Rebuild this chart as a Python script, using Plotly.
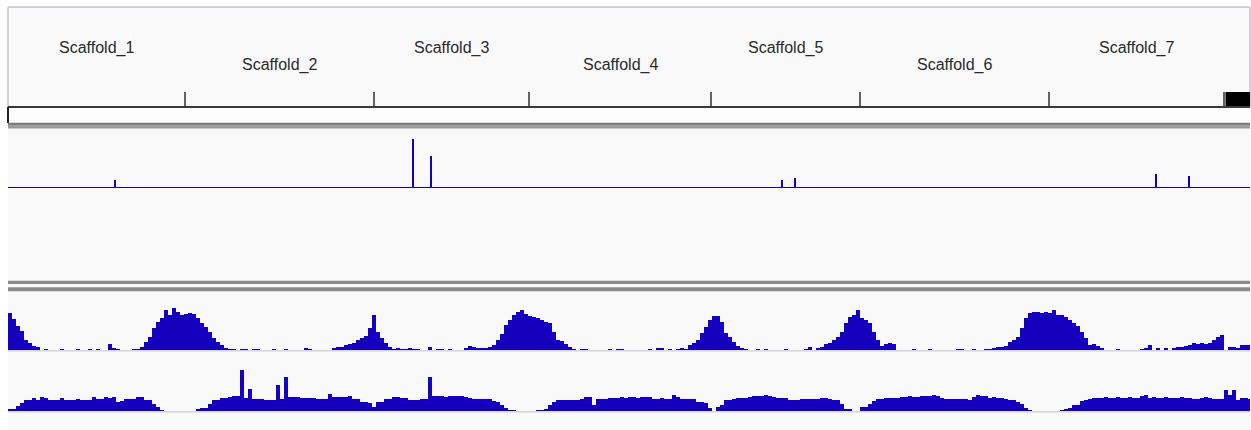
import numpy as np
import plotly.graph_objects as go

# ---- genome layout (Mb) ----
scaffold_names = ["Scaffold_1", "Scaffold_2", "Scaffold_3", "Scaffold_4",
                  "Scaffold_5", "Scaffold_6", "Scaffold_7"]
scaffold_mb = [17.7, 18.9, 15.5, 18.2, 14.9, 18.9, 17.5]
unplaced_mb = 2.6          # small unplaced scaffolds drawn as one block
BIN_MB = 0.4               # window size of the density tracks

# ---- track 1: variant counts ----
snp_pos_mb = [10.7, 40.5, 42.3, 77.4, 78.7, 114.8, 118.1, 122.5]
snp_count = [8, 49, 32, 8, 10, 14, 12, 1]

# ---- track 2: repeat density per window ----
repeat_density = [
    37, 31, 24, 19, 10, 7, 4, 3, 0, 1,
    0, 0, 0, 1, 0, 0, 0, 1, 0, 0,
    1, 0, 1, 0, 0, 6, 2, 1, 0, 0,
    0, 1, 1, 3, 8, 13, 22, 28, 32, 40,
    35, 42, 38, 35, 36, 37, 36, 32, 27, 23,
    18, 12, 8, 5, 2, 1, 1, 0, 1, 1,
    0, 1, 1, 0, 0, 0, 1, 0, 0, 1,
    0, 0, 0, 0, 2, 1, 0, 0, 0, 0,
    0, 2, 3, 3, 5, 6, 7, 10, 12, 14,
    22, 35, 18, 12, 7, 3, 1, 2, 1, 1,
    2, 1, 1, 0, 0, 3, 0, 1, 1, 0,
    1, 0, 0, 0, 2, 4, 3, 2, 2, 2,
    3, 5, 10, 16, 25, 30, 35, 38, 40, 36,
    34, 33, 32, 30, 28, 27, 18, 10, 9, 6,
    3, 1, 0, 1, 1, 0, 0, 0, 0, 0,
    1, 0, 1, 1, 0, 0, 0, 0, 0, 0,
    1, 0, 2, 2, 0, 1, 0, 1, 2, 1,
    5, 7, 10, 17, 23, 30, 34, 34, 28, 17,
    13, 8, 4, 2, 1, 0, 0, 1, 0, 1,
    0, 0, 0, 0, 1, 0, 0, 0, 0, 1,
    3, 0, 2, 3, 6, 7, 10, 13, 18, 27,
    33, 35, 40, 32, 30, 27, 18, 10, 4, 6,
    7, 6, 0, 0, 0, 0, 1, 0, 0, 0,
    1, 0, 0, 0, 0, 0, 0, 1, 1, 0,
    0, 1, 0, 0, 1, 1, 2, 3, 3, 4,
    8, 10, 13, 22, 32, 37, 38, 38, 37, 38,
    37, 40, 35, 35, 33, 30, 27, 24, 18, 12,
    5, 6, 4, 2, 0, 0, 0, 1, 0, 0,
    0, 0, 0, 1, 2, 5, 0, 2, 0, 2,
    0, 2, 3, 3, 4, 5, 7, 6, 7, 6,
    7, 10, 13, 15, 0, 3, 3, 2, 5, 5,
    5,
]

# ---- track 3: gene density per window ----
gene_density = [
    2, 2, 5, 8, 11, 11, 13, 11, 14, 13,
    11, 11, 11, 13, 11, 11, 11, 12, 11, 11,
    11, 14, 12, 12, 14, 13, 14, 9, 10, 12,
    12, 12, 14, 14, 11, 11, 7, 4, 1, 0,
    0, 0, 0, 0, 0, 0, 0, 2, 3, 3,
    7, 11, 11, 13, 13, 14, 15, 15, 41, 13,
    22, 12, 12, 12, 11, 11, 11, 26, 12, 34,
    14, 14, 14, 13, 13, 13, 13, 12, 12, 12,
    17, 14, 14, 14, 14, 15, 12, 12, 9, 9,
    8, 4, 9, 9, 12, 12, 14, 14, 13, 13,
    11, 11, 11, 12, 12, 34, 15, 15, 15, 14,
    15, 15, 15, 15, 14, 13, 12, 12, 12, 12,
    12, 10, 9, 6, 3, 1, 1, 0, 0, 0,
    0, 0, 1, 1, 2, 6, 9, 11, 11, 11,
    11, 11, 11, 12, 14, 14, 6, 12, 12, 12,
    13, 13, 13, 14, 13, 14, 14, 13, 14, 14,
    14, 12, 12, 13, 12, 12, 16, 14, 12, 12,
    12, 12, 9, 9, 8, 3, 0, 4, 6, 11,
    11, 12, 13, 13, 13, 14, 15, 15, 15, 16,
    15, 14, 13, 13, 13, 11, 11, 11, 12, 12,
    12, 12, 12, 13, 13, 12, 11, 11, 7, 2,
    2, 0, 0, 4, 4, 7, 10, 12, 12, 13,
    13, 13, 13, 14, 14, 15, 14, 14, 15, 15,
    15, 16, 15, 13, 12, 12, 12, 12, 12, 12,
    11, 14, 16, 15, 15, 13, 14, 13, 13, 12,
    11, 11, 9, 7, 3, 1, 0, 0, 0, 0,
    0, 0, 0, 1, 2, 3, 6, 6, 10, 11,
    12, 13, 13, 13, 14, 13, 13, 14, 13, 13,
    14, 13, 13, 15, 16, 13, 14, 13, 13, 14,
    13, 13, 13, 14, 13, 13, 12, 12, 13, 14,
    13, 12, 12, 12, 21, 16, 21, 11, 13, 13,
    12,
]

# ---- styling ----
W, H = 1251, 430
TOP = 7
BLUE = "#1500be"
FRAME = "#d0d0d8"
PANEL = "#f9f9f9"
FONT = "Liberation Sans, Arial, Helvetica, sans-serif"

total_mb = sum(scaffold_mb) + unplaced_mb
bounds = np.concatenate([[0.0], np.cumsum(scaffold_mb)])


def py(pixel_y):
    """Screen row -> paper fraction of the plotting area."""
    return (H - pixel_y) / (H - TOP)


def step_xy(values):
    edges = np.arange(len(values) + 1) * BIN_MB
    return edges, list(values) + [values[-1]]


fig = go.Figure()

# density tracks drawn as filled step profiles
for vals, axis in ((gene_density, "y"), (repeat_density, "y2")):
    xs, ys = step_xy(vals)
    fig.add_trace(go.Scatter(
        x=xs, y=ys, yaxis=axis, mode="lines", line_shape="hv",
        line=dict(width=0, color=BLUE), fill="tozeroy", fillcolor=BLUE,
        hoverinfo="skip", showlegend=False))

# variant counts as thin bars
fig.add_trace(go.Bar(
    x=snp_pos_mb, y=snp_count, width=0.25, yaxis="y3",
    marker=dict(color=BLUE, line=dict(width=0)),
    hoverinfo="skip", showlegend=False))

shapes = []


def hline(y, color, width, x0=0, x1=1, layer="above"):
    shapes.append(dict(type="line", xref="paper", yref="paper",
                       x0=x0, x1=x1, y0=y, y1=y, layer=layer,
                       line=dict(color=color, width=width)))


def rect(y0, y1, color, layer="above"):
    shapes.append(dict(type="rect", xref="paper", yref="paper",
                       x0=0, x1=1, y0=y0, y1=y1, layer=layer,
                       fillcolor=color, line=dict(width=0)))


# panel background behind every track
rect(0, 1, PANEL, layer="below")

# header frame
hline(1.0, FRAME, 2)
for xp in (0, 1):
    shapes.append(dict(type="line", xref="paper", yref="paper",
                       x0=xp, x1=xp, y0=py(107), y1=1.0,
                       line=dict(color=FRAME, width=2)))

# ruler: white strip, baseline, gray band
rect(py(123), py(107.5), "#fdfdfd")
hline(py(107), "#3a3a3a", 2)
shapes.append(dict(type="line", xref="paper", yref="paper",
                   x0=0, x1=0, y0=py(123), y1=py(107),
                   line=dict(color="#202020", width=2)))
rect(py(128.5), py(125.5), "#9a9a9a")
rect(py(125.5), py(122.7), "#7c7c7c")

# scaffold boundary ticks
for b in bounds[1:]:
    shapes.append(dict(type="line", xref="x", yref="paper",
                       x0=b, x1=b, y0=py(106), y1=py(92),
                       line=dict(color="#303030", width=1.5)))
# unplaced scaffolds block
shapes.append(dict(type="rect", xref="x", yref="paper",
                   x0=bounds[-1] + 0.15, x1=total_mb, y0=py(106), y1=py(92),
                   fillcolor="#000000", line=dict(width=0)))

# track separators
rect(py(284), py(280.7), "#8c8c8c")
rect(py(291.3), py(287.3), "#8c8c8c")

# track baselines
shapes.append(dict(type="line", xref="paper", yref="y3", x0=0, x1=1,
                   y0=0, y1=0, line=dict(color=BLUE, width=2)))
hline(py(350.8), "#d4d4dc", 1.5, layer="below")
hline(py(411.8), "#d4d4dc", 1.5, layer="below")

# scaffold labels, staggered on two rows
annotations = []
for k, name in enumerate(scaffold_names):
    mid = (bounds[k] + bounds[k + 1]) / 2
    annotations.append(dict(
        x=mid, y=py(48.5 if k % 2 == 0 else 64.5), xref="x", yref="paper",
        text=name, showarrow=False, xanchor="center", yanchor="middle",
        font=dict(family=FONT, size=16, color="#2a2a2a")))

hidden = dict(visible=False, fixedrange=True)
fig.update_layout(
    width=W, height=H,
    margin=dict(l=8, r=1, t=TOP, b=0, pad=0),
    paper_bgcolor="#ffffff", plot_bgcolor="rgba(0,0,0,0)",
    showlegend=False, bargap=0,
    xaxis=dict(range=[0, total_mb], domain=[0, 1], **hidden),
    yaxis=dict(range=[0, 50], domain=[py(411), py(361)], **hidden),
    yaxis2=dict(range=[0, 50], domain=[py(350), py(300)], **hidden),
    yaxis3=dict(range=[0, 50], domain=[py(188), py(138)], **hidden),
    shapes=shapes, annotations=annotations,
)

fig.write_html("out.html")
